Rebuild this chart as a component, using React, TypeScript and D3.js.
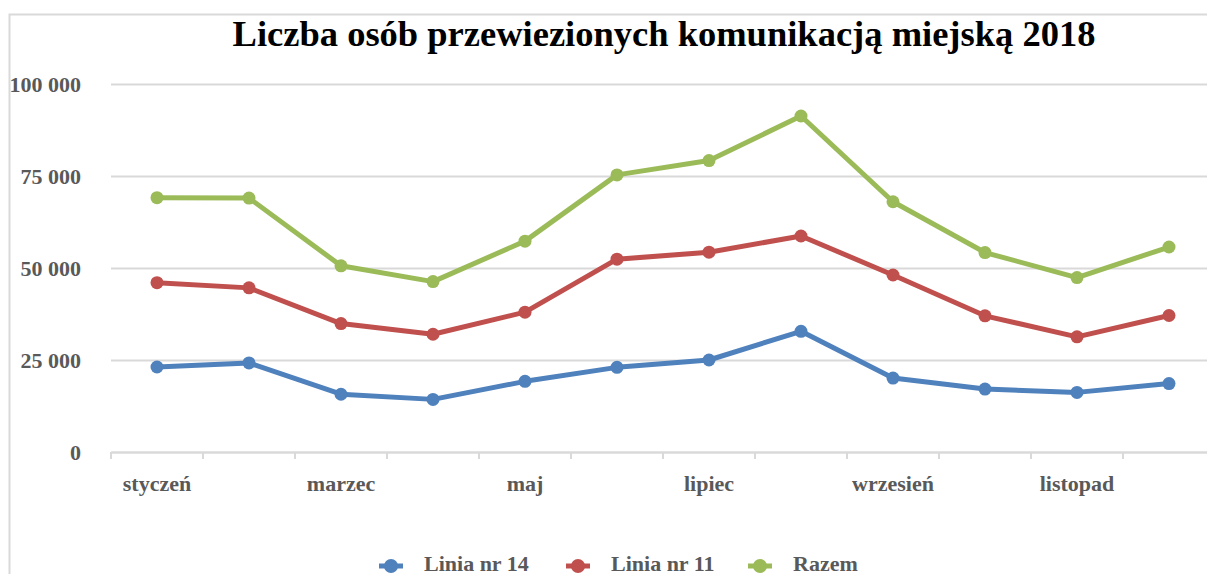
import React, { useEffect, useRef } from "react";
import * as d3 from "d3";

const months = [
  "styczeń", "luty", "marzec", "kwiecień", "maj", "czerwiec",
  "lipiec", "sierpień", "wrzesień", "październik", "listopad", "grudzień",
];
const linia14 = [23100, 24200, 15700, 14300, 19200, 23000, 25000, 32800, 20100, 17100, 16200, 18600];
const linia11 = [46000, 44600, 34900, 32000, 38000, 52400, 54300, 58700, 48100, 37000, 31300, 37100];
const razem = [69100, 69000, 50600, 46300, 57300, 75300, 79200, 91300, 68000, 54200, 47400, 55700];
const seriesNames = ["Linia nr 14", "Linia nr 11", "Razem"];
const yTicks = [0, 25000, 50000, 75000, 100000];

const App = () => {
  const ref = useRef<SVGSVGElement>(null);

  useEffect(() => {
    const width = 1207;
    const height = 574;
    const font = "'Liberation Serif', 'DejaVu Serif', serif";
    const textColor = "#595959";
    const gridColor = "#d9d9d9";
    const colors = ["#4f81bd", "#c0504d", "#9bbb59"];
    const series = [linia14, linia11, razem];

    const svg = d3.select(ref.current);
    svg.selectAll("*").remove();

    // ramka wykresu (ucięta z prawej i od dołu)
    svg.append("path")
      .attr("d", `M9.5,${height + 5} L9.5,14.5 L${width + 5},14.5`)
      .attr("fill", "none")
      .attr("stroke", gridColor)
      .attr("stroke-width", 2);

    svg.append("text")
      .attr("x", 664)
      .attr("y", 46)
      .attr("text-anchor", "middle")
      .attr("font-family", font)
      .attr("font-weight", "bold")
      .attr("font-size", 36.5)
      .attr("fill", "#000")
      .text("Liczba osób przewiezionych komunikacją miejską 2018");

    const x = d3.scaleBand().domain(months).range([111, 1215]).paddingInner(0).paddingOuter(0);
    const y = d3.scaleLinear().domain([0, 100000]).range([452, 84]);
    const cx = (m: string) => (x(m) as number) + x.bandwidth() / 2;

    // siatka i opisy osi Y
    const yAxis = (g: any) =>
      g.attr("transform", `translate(111,0)`)
        .call(d3.axisLeft(y).tickValues(yTicks).tickSize(-1104).tickPadding(30)
          .tickFormat((d: any) => d3.format(",")(d).replace(/,/g, " ")))
        .call((g: any) => g.select(".domain").remove())
        .call((g: any) => g.selectAll(".tick line").attr("stroke", gridColor).attr("stroke-width", 2))
        .call((g: any) => g.selectAll(".tick text")
          .attr("font-family", font).attr("font-weight", "bold").attr("font-size", 22)
          .attr("fill", textColor));
    svg.append("g").call(yAxis);

    // oś X, podpis co drugi miesiąc
    const xAxis = (g: any) =>
      g.attr("transform", `translate(0,452)`)
        .call(d3.axisBottom(x).tickSize(0).tickPadding(23)
          .tickFormat((d: any, i: number) => (i % 2 === 0 ? d : "")))
        .call((g: any) => g.select(".domain").attr("stroke", gridColor).attr("stroke-width", 2))
        .call((g: any) => g.selectAll(".tick text")
          .attr("font-family", font).attr("font-weight", "bold").attr("font-size", 22)
          .attr("fill", textColor));
    svg.append("g").call(xAxis);

    // znaczniki między kategoriami
    const bounds = months.map((m) => x(m) as number).concat([1215]);
    svg.append("g")
      .selectAll("line")
      .data(bounds)
      .enter()
      .append("line")
      .attr("x1", (d) => d).attr("x2", (d) => d)
      .attr("y1", 452).attr("y2", 459)
      .attr("stroke", gridColor).attr("stroke-width", 2);

    const line = d3.line<number>()
      .x((_, i) => cx(months[i]))
      .y((d) => y(d));

    series.forEach((vals, s) => {
      svg.append("path")
        .datum(vals)
        .attr("d", line)
        .attr("fill", "none")
        .attr("stroke", colors[s])
        .attr("stroke-width", 5)
        .attr("stroke-linejoin", "round");
      svg.append("g")
        .selectAll("circle")
        .data(vals)
        .enter()
        .append("circle")
        .attr("cx", (_, i) => cx(months[i]))
        .attr("cy", (d) => y(d))
        .attr("r", 6.5)
        .attr("fill", colors[s]);
    });

    // legenda
    const legendX = [391, 578, 760];
    const legend = svg.append("g")
      .selectAll("g")
      .data(seriesNames)
      .enter()
      .append("g")
      .attr("transform", (_, i) => `translate(${legendX[i]},566)`);
    legend.append("line")
      .attr("x1", -12).attr("x2", 12)
      .attr("stroke", (_, i) => colors[i]).attr("stroke-width", 5);
    legend.append("circle").attr("r", 7).attr("fill", (_, i) => colors[i]);
    legend.append("text")
      .attr("x", 33)
      .attr("y", 5)
      .attr("font-family", font).attr("font-weight", "bold").attr("font-size", 22)
      .attr("fill", textColor)
      .text((d) => d);
  }, []);

  return (
    <svg
      ref={ref}
      width={1207}
      height={574}
      style={{ position: "absolute", left: 0, top: 0, background: "#fff" }}
    />
  );
};

export default App;
